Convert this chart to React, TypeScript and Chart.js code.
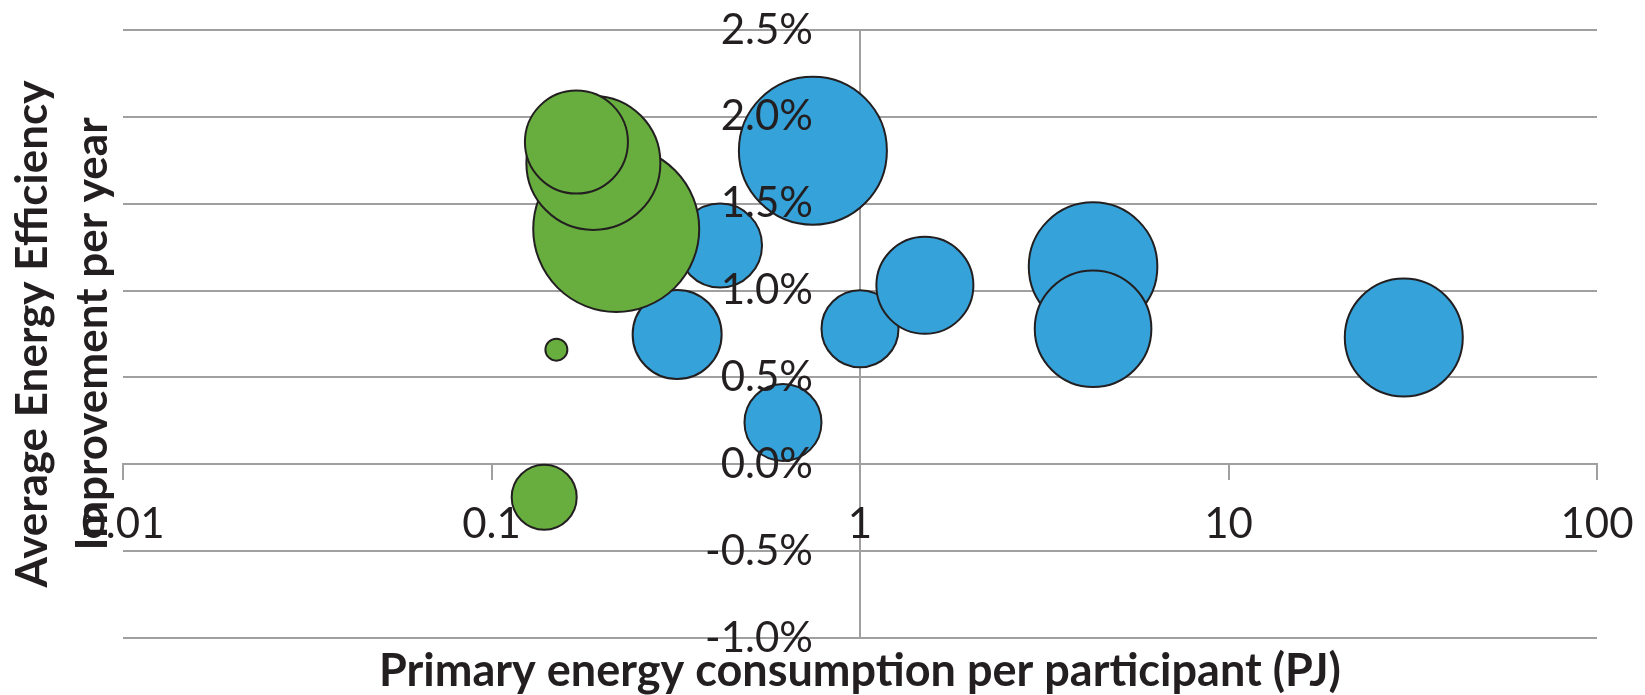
import React, { useEffect, useRef } from 'react';
import { Chart, registerables } from 'chart.js';

Chart.register(...registerables);

// ---- data ----
const xTickValues = [0.01, 0.1, 1, 10, 100];
const xTickLabels = ['0.01', '0.1', '1', '10', '100'];
const yMin = -1.0;
const yMax = 2.5;
const yStep = 0.5;

const greenX = [0.218, 0.189, 0.17, 0.15, 0.139];
const greenY = [1.355, 1.735, 1.855, 0.66, -0.19];
const greenR = [83, 67, 51.5, 11, 32.5];

const blueX = [0.417, 0.319, 0.618, 0.745, 1.0, 1.5, 4.29, 4.29, 29.9];
const blueY = [1.259, 0.747, 0.241, 1.805, 0.78, 1.03, 1.138, 0.78, 0.73];
const blueR = [42, 44.5, 38.5, 74, 38.5, 48.5, 64.3, 58.3, 59];

const xTitle = 'Primary energy consumption per participant (PJ)';
const yTitleLines = ['Average Energy Efficiency', 'Improvement per year'];

// ---- styles ----
const GRID = '#a0a0a0';
const TEXT = '#231f20';
const BLUE = '#35a2da';
const GREEN = '#67ae3e';
const EDGE = '#231f20';
const FONT = 'Lato';
const Y_LABEL_GAP = 47;

const axisTitles = {
  id: 'axisTitles',
  afterDraw(chart: any) {
    const { ctx, chartArea } = chart;
    ctx.save();
    ctx.fillStyle = TEXT;
    ctx.textAlign = 'center';
    ctx.textBaseline = 'alphabetic';
    ctx.font = `bold 45px ${FONT}`;
    ctx.fillText(xTitle, (chartArea.left + chartArea.right) / 2, 686);
    ctx.font = `bold 44px ${FONT}`;
    ctx.translate(0, (chartArea.top + chartArea.bottom) / 2);
    ctx.rotate(-Math.PI / 2);
    ctx.fillText(yTitleLines[0], 0, 47);
    ctx.fillText(yTitleLines[1], 0, 107);
    ctx.restore();
  },
};

// y tick labels sit a gap to the left of the crossing y axis
const shiftYLabels = {
  id: 'shiftYLabels',
  afterLayout(chart: any) {
    const s: any = chart.scales.y;
    if (!s || s.__shifted) return;
    const orig = s._computeLabelItems;
    s._computeLabelItems = function (ca: any) {
      const items = orig.call(this, ca);
      items.forEach((it: any) => {
        const t = it.options.translation;
        it.options.translation = [t[0] - Y_LABEL_GAP, t[1]];
      });
      return items;
    };
    s._labelItems = null;
    s.__shifted = true;
  },
};

export default function App() {
  const ref = useRef<HTMLCanvasElement | null>(null);

  useEffect(() => {
    if (!ref.current) return;
    const chart = new Chart(ref.current, {
      type: 'bubble',
      data: {
        datasets: [
          {
            label: 'Green',
            data: greenX.map((x, i) => ({ x, y: greenY[i], r: greenR[i] })),
            backgroundColor: GREEN,
            borderColor: EDGE,
            borderWidth: 2,
          },
          {
            label: 'Blue',
            data: blueX.map((x, i) => ({ x, y: blueY[i], r: blueR[i] })),
            backgroundColor: BLUE,
            borderColor: EDGE,
            borderWidth: 2,
          },
        ],
      },
      options: {
        responsive: false,
        animation: false,
        layout: { autoPadding: false, padding: { left: 123, right: 48, top: 30, bottom: 57 } },
        plugins: {
          legend: { display: false },
          tooltip: { enabled: false },
        },
        scales: {
          x: {
            type: 'logarithmic',
            min: 0.01,
            max: 100,
            position: { y: 0 } as any,
            afterBuildTicks: (scale: any) => {
              scale.ticks = xTickValues.map((v) => ({ value: v }));
            },
            grid: {
              drawOnChartArea: false,
              drawTicks: true,
              tickLength: 15,
              color: GRID,
              lineWidth: 2,
            },
            border: { display: true, color: GRID, width: 2 },
            ticks: {
              autoSkip: false,
              maxRotation: 0,
              padding: 3,
              color: TEXT,
              font: { family: FONT, size: 42, lineHeight: 2 },
              callback: (_v: any, i: number) => xTickLabels[i],
              z: 1,
            },
          },
          y: {
            type: 'linear',
            min: yMin,
            max: yMax,
            position: { x: 1 } as any,
            grid: { color: GRID, lineWidth: 2, drawTicks: false },
            border: { display: true, color: GRID, width: 2 },
            ticks: {
              stepSize: yStep,
              padding: 0,
              color: TEXT,
              font: { family: FONT, size: 42 },
              callback: (v: any) => Number(v).toFixed(1) + '%',
              z: 1,
            },
          },
        },
      },
      plugins: [shiftYLabels, axisTitles],
    });
    return () => chart.destroy();
  }, []);

  return (
    <div style={{ position: 'fixed', left: 0, top: 0, width: 1645, height: 695, background: '#fff' }}>
      <canvas ref={ref} width={1645} height={695} />
    </div>
  );
}
